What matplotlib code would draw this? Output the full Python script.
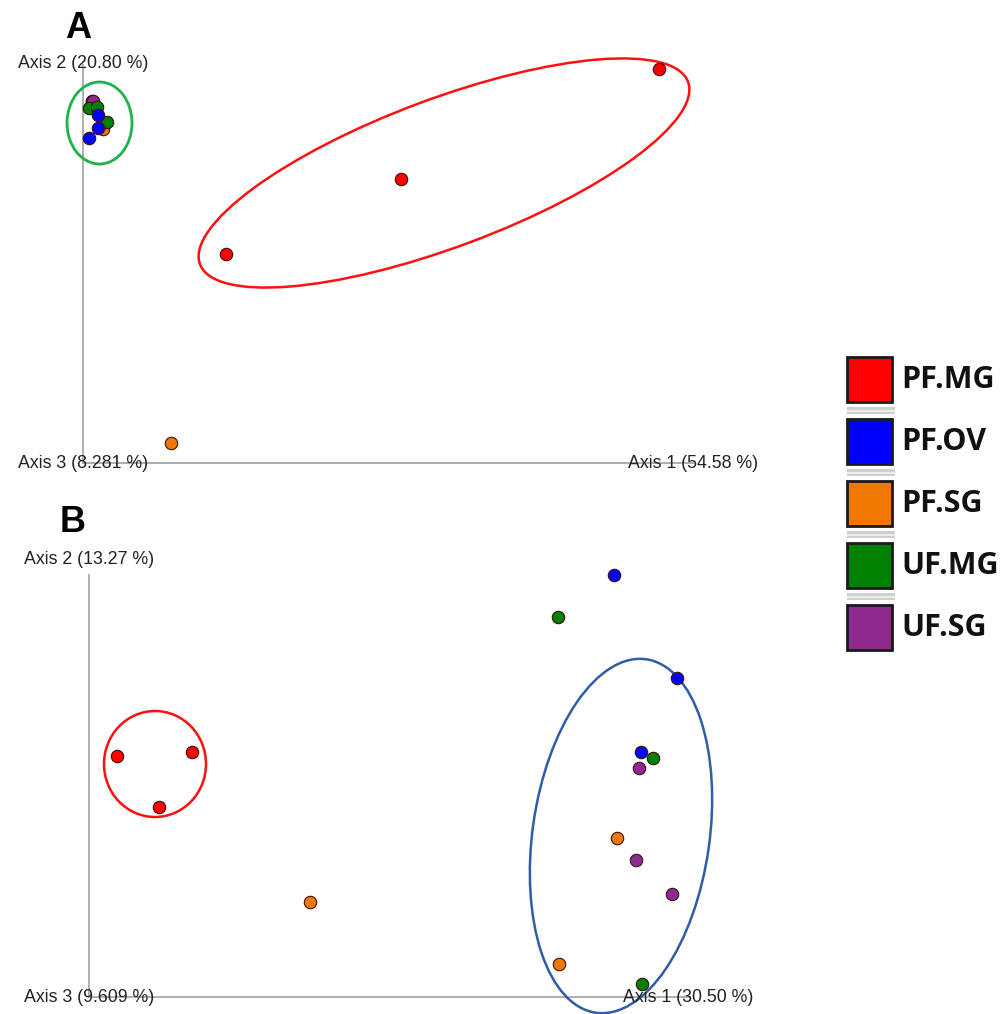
import matplotlib
matplotlib.use("Agg")
import matplotlib.pyplot as plt
from matplotlib.patches import Ellipse, Rectangle

# ---------------- data ----------------
groups = ["PF.MG", "PF.OV", "PF.SG", "UF.MG", "UF.SG"]
colors = ["#ff0000", "#0000ff", "#f07800", "#008000", "#8e2a8e"]

# Panel A (PCoA scores, scaled units)
a_pf_mg = [(576, 394), (318, 284), (143, 209)]
a_pf_ov = [(15, 348), (15, 335), (6, 325)]
a_pf_sg = [(88, 20), (19, 335), (20, 334)]
a_uf_mg = [(6, 355), (14, 356), (24, 341)]
a_uf_sg = [(9, 362), (9, 361), (10, 362)]
a_points = [a_pf_mg, a_pf_ov, a_pf_sg, a_uf_mg, a_uf_sg]
a_axis_labels = ["Axis 1 (54.58 %)", "Axis 2 (20.80 %)", "Axis 3 (8.281 %)"]

# Panel B
b_pf_mg = [(28, 241), (103, 245), (70, 190)]
b_pf_ov = [(525, 422), (588, 319), (552, 245)]
b_pf_sg = [(528, 159), (221, 95), (470, 33)]
b_uf_mg = [(469, 380), (564, 239), (553, 13)]
b_uf_sg = [(550, 229), (547, 137), (583, 103)]
b_points = [b_pf_mg, b_pf_ov, b_pf_sg, b_uf_mg, b_uf_sg]
b_axis_labels = ["Axis 1 (30.50 %)", "Axis 2 (13.27 %)", "Axis 3 (9.609 %)"]

# draw order inside the tight cluster of panel A (bottom -> top)
a_order = [4, 2, 0, 3, 1]

# ---------------- figure ----------------
W, H = 1008, 1014
fig = plt.figure(figsize=(W / 100, H / 100), dpi=100)
fig.patch.set_facecolor("white")

AXCOL = "#a8a8a8"
LABFONT = dict(family=["Liberation Sans", "DejaVu Sans"], fontsize=12.8, color="#222222")


def make_panel(px_left, px_top, px_w, px_h, ox, oy):
    # axes spanning given pixel rect; data origin at pixel (ox, oy); 1 unit = 1 px
    ax = fig.add_axes([px_left / W, 1 - (px_top + px_h) / H, px_w / W, px_h / H])
    ax.set_xlim(px_left - ox, px_left + px_w - ox)
    ax.set_ylim(oy - (px_top + px_h), oy - px_top)
    ax.axis("off")
    return ax


def draw_points(ax, pts_list, order=None):
    idx = order if order is not None else range(len(pts_list))
    for k, i in enumerate(idx):
        pts, c = pts_list[i], colors[i]
        xs = [p[0] for p in pts]
        ys = [p[1] for p in pts]
        ax.scatter(xs, ys, s=80, c=c, edgecolors="#3a1010", linewidths=0.8,
                   zorder=5 + k * 0.1, clip_on=False)


# ----- Panel A -----
axA = make_panel(0, 0, 830, 480, 83, 463)
xend_a, yend_a = 610, 398
axA.plot([0, xend_a], [0, 0], color=AXCOL, lw=1.3, zorder=1, clip_on=False)
axA.plot([0, 0], [0, yend_a], color=AXCOL, lw=1.3, zorder=1, clip_on=False)
axA.add_patch(Ellipse((361, 290), 521, 148, angle=20.5, fill=False,
                      edgecolor="#ff1010", lw=1.8, zorder=3, clip_on=False))
axA.add_patch(Ellipse((16.5, 340), 65, 82, angle=0, fill=False,
                      edgecolor="#1db34a", lw=2.0, zorder=3, clip_on=False))
draw_points(axA, a_points, a_order)
axA.text(xend_a, 0, a_axis_labels[0], ha="center", va="center", zorder=6, **LABFONT)
axA.text(0, yend_a + 2, a_axis_labels[1], ha="center", va="center", zorder=6, **LABFONT)
axA.text(0, 0, a_axis_labels[2], ha="center", va="center", zorder=6, **LABFONT)
axA.text(-5, 434, "A", ha="center", va="center", fontsize=26, fontweight="bold",
         family=["Liberation Sans", "DejaVu Sans"], color="black")

# ----- Panel B -----
axB = make_panel(0, 500, 830, 514, 89, 997)
xend_b, yend_b = 601, 422
axB.plot([0, xend_b], [0, 0], color=AXCOL, lw=1.3, zorder=1, clip_on=False)
axB.plot([0, 0], [0, yend_b], color=AXCOL, lw=1.3, zorder=1, clip_on=False)
axB.add_patch(Ellipse((66, 233), 102, 106, angle=0, fill=False,
                      edgecolor="#ff1010", lw=1.8, zorder=3, clip_on=False))
axB.add_patch(Ellipse((532, 161), 357, 177, angle=81.9, fill=False,
                      edgecolor="#2f5da8", lw=1.8, zorder=3, clip_on=False))
draw_points(axB, b_points)
axB.text(xend_b - 2, 0, b_axis_labels[0], ha="center", va="center", zorder=6, **LABFONT)
axB.text(0, yend_b + 15, b_axis_labels[1], ha="center", va="center", zorder=6, **LABFONT)
axB.text(0, 0, b_axis_labels[2], ha="center", va="center", zorder=6, **LABFONT)
axB.text(-16, 475, "B", ha="center", va="center", fontsize=26, fontweight="bold",
         family=["Liberation Sans", "DejaVu Sans"], color="black")

# ----- Legend -----
axL = fig.add_axes([0, 0, 1, 1])
axL.set_xlim(0, W)
axL.set_ylim(H, 0)
axL.axis("off")
sq_x, sq_y0, sq, step = 847, 357, 45, 62
for i, (g, c) in enumerate(zip(groups, colors)):
    y = sq_y0 + i * step
    axL.add_patch(Rectangle((sq_x, y), sq, sq, facecolor=c, edgecolor="#1a1a1a", lw=2.0))
    axL.text(sq_x + sq + 9, y + sq / 2 + 1, g, ha="left", va="center",
             fontsize=22, fontweight="bold", family=["Open Sans", "DejaVu Sans"],
             color="#111111")
    if i < len(groups) - 1:
        axL.add_patch(Rectangle((sq_x, y + sq + 5), sq + 3, 7, facecolor="#cfcfcf",
                                edgecolor="none"))
        axL.add_patch(Rectangle((sq_x, y + sq + 7.5), sq + 3, 2, facecolor="#ececec",
                                edgecolor="none"))

fig.savefig("out.png", dpi=100, facecolor="white")
